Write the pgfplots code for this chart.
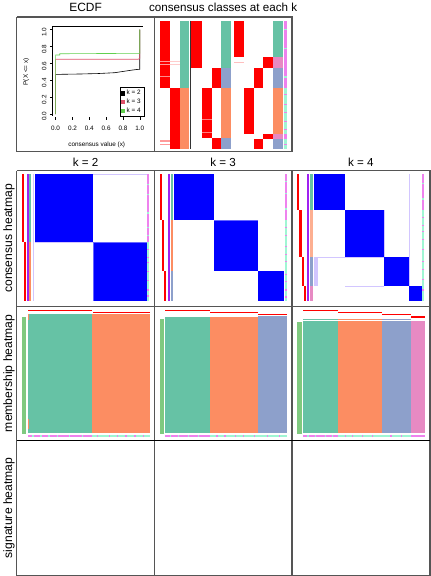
\documentclass[border=0pt]{standalone}
\usepackage{pgfplots}
\pgfplotsset{compat=1.18}
\usepackage{fontspec}
\setmainfont{Liberation Sans}
\definecolor{cred}{HTML}{FF0000}
\definecolor{cblue}{HTML}{0000FF}
\definecolor{cteal}{HTML}{66C2A5}
\definecolor{corange}{HTML}{FC8D62}
\definecolor{cbg}{HTML}{8DA0CB}
\definecolor{cpink}{HTML}{E78AC3}
\definecolor{cpurple}{HTML}{A020F0}
\definecolor{cgreen}{HTML}{7FC97F}
\definecolor{cviolet}{HTML}{EE82EE}
\definecolor{caqua}{HTML}{A0F6D4}
\definecolor{clav}{HTML}{D2C6FF}
\definecolor{frame}{HTML}{555555}
\definecolor{ek3}{HTML}{DF536B}
\definecolor{ek4}{HTML}{61D04F}
\newcommand{\R}[5]{\addplot[fill=#5,draw=none] coordinates {(#1,#2) (#3,#2) (#3,#4) (#1,#4)};}
\newcommand{\Lx}[3]{\addplot[draw=frame,line width=1.3pt] coordinates {(#1,#2) (#1,#3)};}
\newcommand{\Ly}[3]{\addplot[draw=frame,line width=1.3pt] coordinates {(#2,#1) (#3,#1)};}
\begin{document}
\begin{tikzpicture}
\begin{axis}[at={(0,0)},anchor=south west,width=432pt,height=576pt,scale only axis,
  xmin=0,xmax=432,ymin=0,ymax=576,y dir=reverse,hide axis,clip=false]
% ---------------- top frame ----------------
\addplot[draw=frame,line width=1.3pt] coordinates {(20.7,20.7) (292.7,20.7) (292.7,154) (20.7,154) (20.7,20.7)};
\Lx{156.7}{20.7}{154}
% ---------------- consensus classes ----------------
% k=2
\R{162}{24.3}{172}{90.7}{cred}
\R{172}{90.7}{182}{151}{cred}
\R{162}{63.8}{172}{65}{cred!40}
\R{172}{63.8}{182}{65}{cred!20}
\R{162}{67.2}{172}{68.4}{cred!40}
\R{172}{67.2}{182}{68.4}{cred!20}
\R{162}{78.8}{172}{80}{cred!45}
\R{162}{142.8}{172}{144}{cred!40}
\R{162}{146.2}{172}{147.4}{cred!40}
\R{182}{24.3}{191.3}{90.7}{cteal}
\R{182}{90.7}{191.3}{151}{corange}
\addplot[draw=black!80,line width=0.8pt] coordinates {(191.9,24.3) (191.9,151)};
% k=3
\R{193.3}{24.3}{203.3}{70.7}{cred}
\R{203.3}{90.7}{213.3}{140.7}{cred}
\R{213.3}{70.7}{222.7}{90.7}{cred}
\R{213.3}{140.7}{222.7}{151}{cred}
\R{203.3}{121.5}{213.3}{122.7}{cred!50}
\R{203.3}{134.5}{213.3}{135.7}{cred!50}
\R{222.7}{24.3}{232.7}{70.7}{cteal}
\R{222.7}{70.7}{232.7}{90.7}{cbg}
\R{222.7}{90.7}{232.7}{140.7}{corange}
\R{222.7}{140.7}{232.7}{151}{cbg}
% k=4
\R{235.3}{24.3}{245.3}{60}{cred}
\R{245.3}{90.7}{254.7}{136.7}{cred}
\R{254.7}{70.7}{264}{90.7}{cred}
\R{254.7}{141.7}{264}{151}{cred}
\R{264}{60}{274}{70.7}{cred}
\R{264}{136.7}{274}{141.7}{cred}
\R{235.3}{65.5}{245.3}{66.7}{cred!25}
\R{274}{24.3}{284}{60}{cteal}
\R{274}{60}{284}{70.7}{cpink}
\R{274}{70.7}{284}{90.7}{cbg}
\R{274}{90.7}{284}{136.7}{corange}
\R{274}{136.7}{284}{141.7}{cpink}
\R{274}{141.7}{284}{151}{cbg}
% strip
\R{285.3}{24.3}{287.3}{90.7}{cviolet}
\R{285.3}{32.5}{287.3}{33.7}{caqua}
\R{285.3}{51.5}{287.3}{52.7}{caqua}
\R{285.3}{79.5}{287.3}{80.7}{caqua}
\R{285.3}{90.7}{287.3}{151}{caqua}
\R{285.3}{96.5}{287.3}{97.7}{cviolet}
\R{285.3}{106.5}{287.3}{107.7}{cviolet}
\R{285.3}{114.5}{287.3}{115.7}{cviolet}
\R{285.3}{123.5}{287.3}{124.7}{cviolet}
\R{285.3}{131.5}{287.3}{132.7}{cviolet}
\R{285.3}{136.7}{287.3}{141.7}{cviolet}
\R{285.3}{146}{287.3}{147.2}{cviolet}
% ---------------- grid ----------------
\addplot[draw=frame,line width=1.3pt] coordinates {(20.7,172.7) (429,172.7) (429,572.7) (20.7,572.7) (20.7,172.7)};
\Lx{156.7}{172.7}{572.7}
\Lx{292.7}{172.7}{572.7}
\Ly{306.7}{20.7}{429}
\addplot[draw=black,line width=1pt] coordinates {(20.7,439.3) (429,439.3)};
% ---------------- consensus heatmap k=2 ----------------
\R{26}{176}{28}{242.7}{cred}
\R{28}{243.3}{30}{301.7}{cred}
\R{31}{176}{33}{301.7}{cpurple}
\R{33}{176}{35}{242.7}{cteal}
\R{33}{243.3}{35}{301.7}{corange}
\R{37}{176}{38}{301.7}{clav}
\R{38.3}{176}{96}{242.7}{cblue}
\R{96}{176}{149}{177}{clav}
\R{96}{243.3}{149}{301.7}{cblue}
\R{96}{243.3}{97}{301.7}{cblue!60}
\R{96}{243.3}{149}{244.3}{cblue!60}
\R{38.3}{243.3}{96}{244.3}{clav}
\R{149.7}{176}{151.7}{243.3}{cviolet}
\R{149.7}{186}{151.7}{187.2}{caqua}
\R{149.7}{196}{151.7}{197.2}{caqua}
\R{149.7}{214}{151.7}{215.2}{caqua}
\R{149.7}{228}{151.7}{229.2}{caqua}
\R{149.7}{236}{151.7}{237.2}{caqua}
\R{149.7}{243.3}{151.7}{301.7}{caqua}
\R{149.7}{250}{151.7}{251.2}{cviolet}
\R{149.7}{258}{151.7}{259.2}{cviolet}
\R{149.7}{263}{151.7}{264.2}{cviolet}
\R{149.7}{272}{151.7}{273.2}{cviolet}
\R{149.7}{281}{151.7}{282.2}{cviolet}
\R{149.7}{290}{151.7}{291.2}{cviolet}
\R{149.7}{296}{151.7}{297.2}{cviolet}
% ---------------- consensus heatmap k=3 ----------------
\R{162}{176}{164}{221.7}{cred}
\R{164}{221.7}{166}{271.7}{cred}
\R{166}{271.7}{168.3}{301.7}{cred}
\R{169.7}{176}{171.7}{301.7}{cpurple}
\R{172.7}{176}{175}{221.7}{cteal}
\R{172.7}{221.7}{175}{271.7}{corange}
\R{172.7}{271.7}{175}{301.7}{cbg}
\R{176}{176}{216}{221.7}{cblue}
\R{216}{221.7}{259}{271.7}{cblue}
\R{259}{271.7}{285}{301.7}{cblue}
\R{216}{221.7}{259}{222.7}{cblue!60}
\R{286}{176}{288}{221.7}{cviolet}
\R{286}{183}{288}{184.2}{caqua}
\R{286}{195}{288}{196.2}{caqua}
\R{286}{210}{288}{211.2}{caqua}
\R{286}{221.7}{288}{301.7}{caqua}
\R{286}{228}{288}{229.2}{cviolet}
\R{286}{236}{288}{237.2}{cviolet}
\R{286}{247}{288}{248.2}{cviolet}
\R{286}{255}{288}{256.2}{cviolet}
\R{286}{262}{288}{263.2}{cviolet}
\R{286}{275}{288}{276.2}{cviolet}
\R{286}{282}{288}{283.2}{cviolet}
\R{286}{290}{288}{291.2}{cviolet}
\R{286}{297}{288}{298.2}{cviolet}
% ---------------- consensus heatmap k=4 ----------------
\R{297.7}{176}{300}{211.7}{cred}
\R{300}{211.7}{302.7}{258.3}{cred}
\R{302.7}{258.3}{305}{286.7}{cred}
\R{305}{286.7}{307}{301.7}{cred}
\R{308}{176}{310}{301.7}{cpurple}
\R{311}{176}{313.3}{211.7}{cteal}
\R{311}{211.7}{313.3}{258.3}{corange!70}
\R{311}{258.3}{313.3}{286.7}{cbg}
\R{311}{286.7}{313.3}{301.7}{cpink}
\R{314.3}{176}{345}{211.7}{cblue}
\R{345}{211.7}{383.7}{258.3}{cblue}
\R{383.7}{258.3}{408.3}{286.7}{cblue}
\R{408.3}{286.7}{421}{301.7}{cblue}
\R{314.3}{258.3}{318}{286.7}{clav}
\R{383.7}{211.7}{384.7}{258.3}{clav}
\R{408.3}{176}{409.3}{286.7}{clav}
\R{345}{286.7}{383.7}{287.7}{clav}
\R{314.3}{258.3}{383.7}{259.3}{clav}
\R{421.7}{176}{423.7}{211.7}{cviolet}
\R{421.7}{185}{423.7}{186.2}{caqua}
\R{421.7}{200}{423.7}{201.2}{caqua}
\R{421.7}{211.7}{423.7}{301.7}{caqua}
\R{421.7}{218}{423.7}{219.2}{cviolet}
\R{421.7}{226}{423.7}{227.2}{cviolet}
\R{421.7}{232}{423.7}{233.2}{cviolet}
\R{421.7}{240}{423.7}{241.2}{cviolet}
\R{421.7}{250}{423.7}{251.2}{cviolet}
\R{421.7}{262}{423.7}{263.2}{cviolet}
\R{421.7}{270}{423.7}{271.2}{cviolet}
\R{421.7}{280}{423.7}{281.2}{cviolet}
\R{421.7}{290}{423.7}{291.2}{cviolet}
% ---------------- membership heatmap k=2 ----------------
\R{26}{317}{30}{432.7}{cgreen}
\R{31.7}{310}{95}{311.7}{cred}
\R{96}{312}{152}{313.7}{cred}
\R{31.7}{314}{95.3}{432.3}{cteal}
\R{95.3}{314}{152}{432.3}{corange}
\R{31.7}{314}{33}{320}{corange}
\R{31.7}{418}{33}{428}{corange}
\R{31.7}{433.7}{95.3}{435.7}{cviolet}
\R{36}{433.7}{37.2}{435.7}{caqua}
\R{44}{433.7}{45.2}{435.7}{caqua}
\R{52}{433.7}{53.2}{435.7}{caqua}
\R{60}{433.7}{61.2}{435.7}{caqua}
\R{72}{433.7}{73.2}{435.7}{caqua}
\R{85}{433.7}{86.2}{435.7}{caqua}
\R{95.3}{433.7}{152}{435.7}{caqua}
\R{100}{433.7}{101.2}{435.7}{cviolet}
\R{112}{433.7}{113.2}{435.7}{cviolet}
\R{120}{433.7}{121.2}{435.7}{cviolet}
\R{128}{433.7}{129.2}{435.7}{cviolet}
\R{137}{433.7}{138.2}{435.7}{cviolet}
\R{145}{433.7}{146.2}{435.7}{cviolet}
% ---------------- membership heatmap k=3 ----------------
\R{162}{319}{166}{432.7}{cgreen}
\R{167}{310}{212}{311.7}{cred}
\R{212}{312}{259}{313.7}{cred}
\R{259}{314}{288}{315.7}{cred}
\R{167}{317}{212}{432.3}{cteal}
\R{212}{317}{259}{432.3}{corange}
\R{259}{316.3}{288}{432.3}{cbg}
\R{167}{433.7}{212}{435.7}{cviolet}
\R{172}{433.7}{173.2}{435.7}{caqua}
\R{180}{433.7}{181.2}{435.7}{caqua}
\R{190}{433.7}{191.2}{435.7}{caqua}
\R{200}{433.7}{201.2}{435.7}{caqua}
\R{212}{433.7}{288}{435.7}{caqua}
\R{218}{433.7}{219.2}{435.7}{cviolet}
\R{226}{433.7}{227.2}{435.7}{cviolet}
\R{236}{433.7}{237.2}{435.7}{cviolet}
\R{244}{433.7}{245.2}{435.7}{cviolet}
\R{255}{433.7}{256.2}{435.7}{cviolet}
\R{268}{433.7}{269.2}{435.7}{cviolet}
\R{280}{433.7}{281.2}{435.7}{cviolet}
% ---------------- membership heatmap k=4 ----------------
\R{298}{322}{303}{432.7}{cgreen}
\R{303.7}{310}{338}{311.7}{cred}
\R{338}{312}{382}{313.7}{cred}
\R{382}{314}{410}{315.7}{cred}
\R{410}{316.3}{424}{318}{cred}
\R{303.7}{319}{338}{320.3}{cteal}
\R{338}{319}{382}{320.3}{corange}
\R{382}{319}{410}{320.3}{cbg}
\R{303.7}{321.7}{338}{432.3}{cteal}
\R{338}{321.7}{382}{432.3}{corange}
\R{382}{321.7}{410}{432.3}{cbg}
\R{410}{321.7}{424}{432.3}{cpink}
\R{303.7}{433.7}{338}{435.7}{cviolet}
\R{308}{433.7}{309.2}{435.7}{caqua}
\R{315}{433.7}{316.2}{435.7}{caqua}
\R{325}{433.7}{326.2}{435.7}{caqua}
\R{332}{433.7}{333.2}{435.7}{caqua}
\R{338}{433.7}{410}{435.7}{caqua}
\R{345}{433.7}{346.2}{435.7}{cviolet}
\R{352}{433.7}{353.2}{435.7}{cviolet}
\R{362}{433.7}{363.2}{435.7}{cviolet}
\R{372}{433.7}{373.2}{435.7}{cviolet}
\R{390}{433.7}{391.2}{435.7}{cviolet}
\R{400}{433.7}{401.2}{435.7}{cviolet}
\R{410}{433.7}{424}{435.7}{cviolet}
% ---------------- texts ----------------
\node[font=\fontsize{11.8}{13}\selectfont] at (axis cs:88.7,11.5) {ECDF};
\node[font=\fontsize{11.5}{13}\selectfont] at (axis cs:224.7,11.5) {consensus classes at each k};
\node[font=\fontsize{11.5}{13}\selectfont] at (axis cs:88.7,164) {k = 2};
\node[font=\fontsize{11.5}{13}\selectfont] at (axis cs:224.7,164) {k = 3};
\node[font=\fontsize{11.5}{13}\selectfont] at (axis cs:360.8,164) {k = 4};
\node[rotate=90,font=\fontsize{12}{13}\selectfont] at (axis cs:13,239.7) {consensus heatmap};
\node[rotate=90,font=\fontsize{12}{13}\selectfont] at (axis cs:13,373) {membership heatmap};
\node[rotate=90,font=\fontsize{12}{13}\selectfont] at (axis cs:13,506) {signature heatmap};
\end{axis}
% ---------------- ECDF ----------------
\begin{axis}[at={(55.7pt,456pt)},anchor=south west,width=89.9pt,height=90pt,scale only axis,
  xmin=-0.04,xmax=1.04,ymin=-0.04,ymax=1.04,
  axis line style={draw=none},tick align=outside,major tick length=2.2pt,
  xtick pos=bottom,ytick pos=left,
  tick style={black,line width=0.5pt},
  xtick={0,0.2,0.4,0.6,0.8,1},ytick={0,0.2,0.4,0.6,0.8,1},
  ticklabel style={font=\fontsize{6.3}{7}\selectfont},
  xticklabel style={yshift=-2.5pt},
  yticklabel style={rotate=90,anchor=south,xshift=-2.5pt},
  /pgf/number format/.cd,fixed,fixed zerofill,precision=1,assume math mode=true,/pgfplots/.cd,
  xlabel={consensus value (x)},ylabel={P(X <= x)},
  label style={font=\fontsize{6.3}{7}\selectfont},
  xlabel style={at={(axis description cs:0.49,-0.297)},anchor=center},
  ylabel style={at={(axis description cs:-0.286,0.5)},anchor=center},
  legend style={font=\fontsize{6.3}{7}\selectfont,at={(axis cs:1.05,-0.035)},anchor=south east,
    draw=black,line width=0.5pt,inner sep=1pt,row sep=-1.5pt,cells={anchor=west}},
  clip=false]
\draw[black,line width=0.6pt] (rel axis cs:0,0.02) -- (rel axis cs:0,1) -- (rel axis cs:1,1);
\addplot[black,line width=0.6pt,legend image code/.code={\fill[black] (0pt,-1.6pt) rectangle (3.2pt,1.6pt);}]
  coordinates {(0,0) (0,0.47) (0.3,0.475) (0.5,0.48) (0.7,0.49) (0.9,0.52) (0.98,0.53) (1,0.53) (1,1)};
\addlegendentry{k = 2}
\addplot[ek3,line width=0.6pt,legend image code/.code={\fill[ek3] (0pt,-1.6pt) rectangle (3.2pt,1.6pt);}]
  coordinates {(0,0) (0,0.65) (0.98,0.65) (1,0.66) (1,1)};
\addlegendentry{k = 3}
\addplot[ek4,line width=0.6pt,legend image code/.code={\fill[ek4] (0pt,-1.6pt) rectangle (3.2pt,1.6pt);}]
  coordinates {(0,0) (0,0.70) (0.05,0.70) (0.05,0.715) (0.98,0.72) (1,0.72) (1,1)};
\addlegendentry{k = 4}
\end{axis}
\end{tikzpicture}
\end{document}
